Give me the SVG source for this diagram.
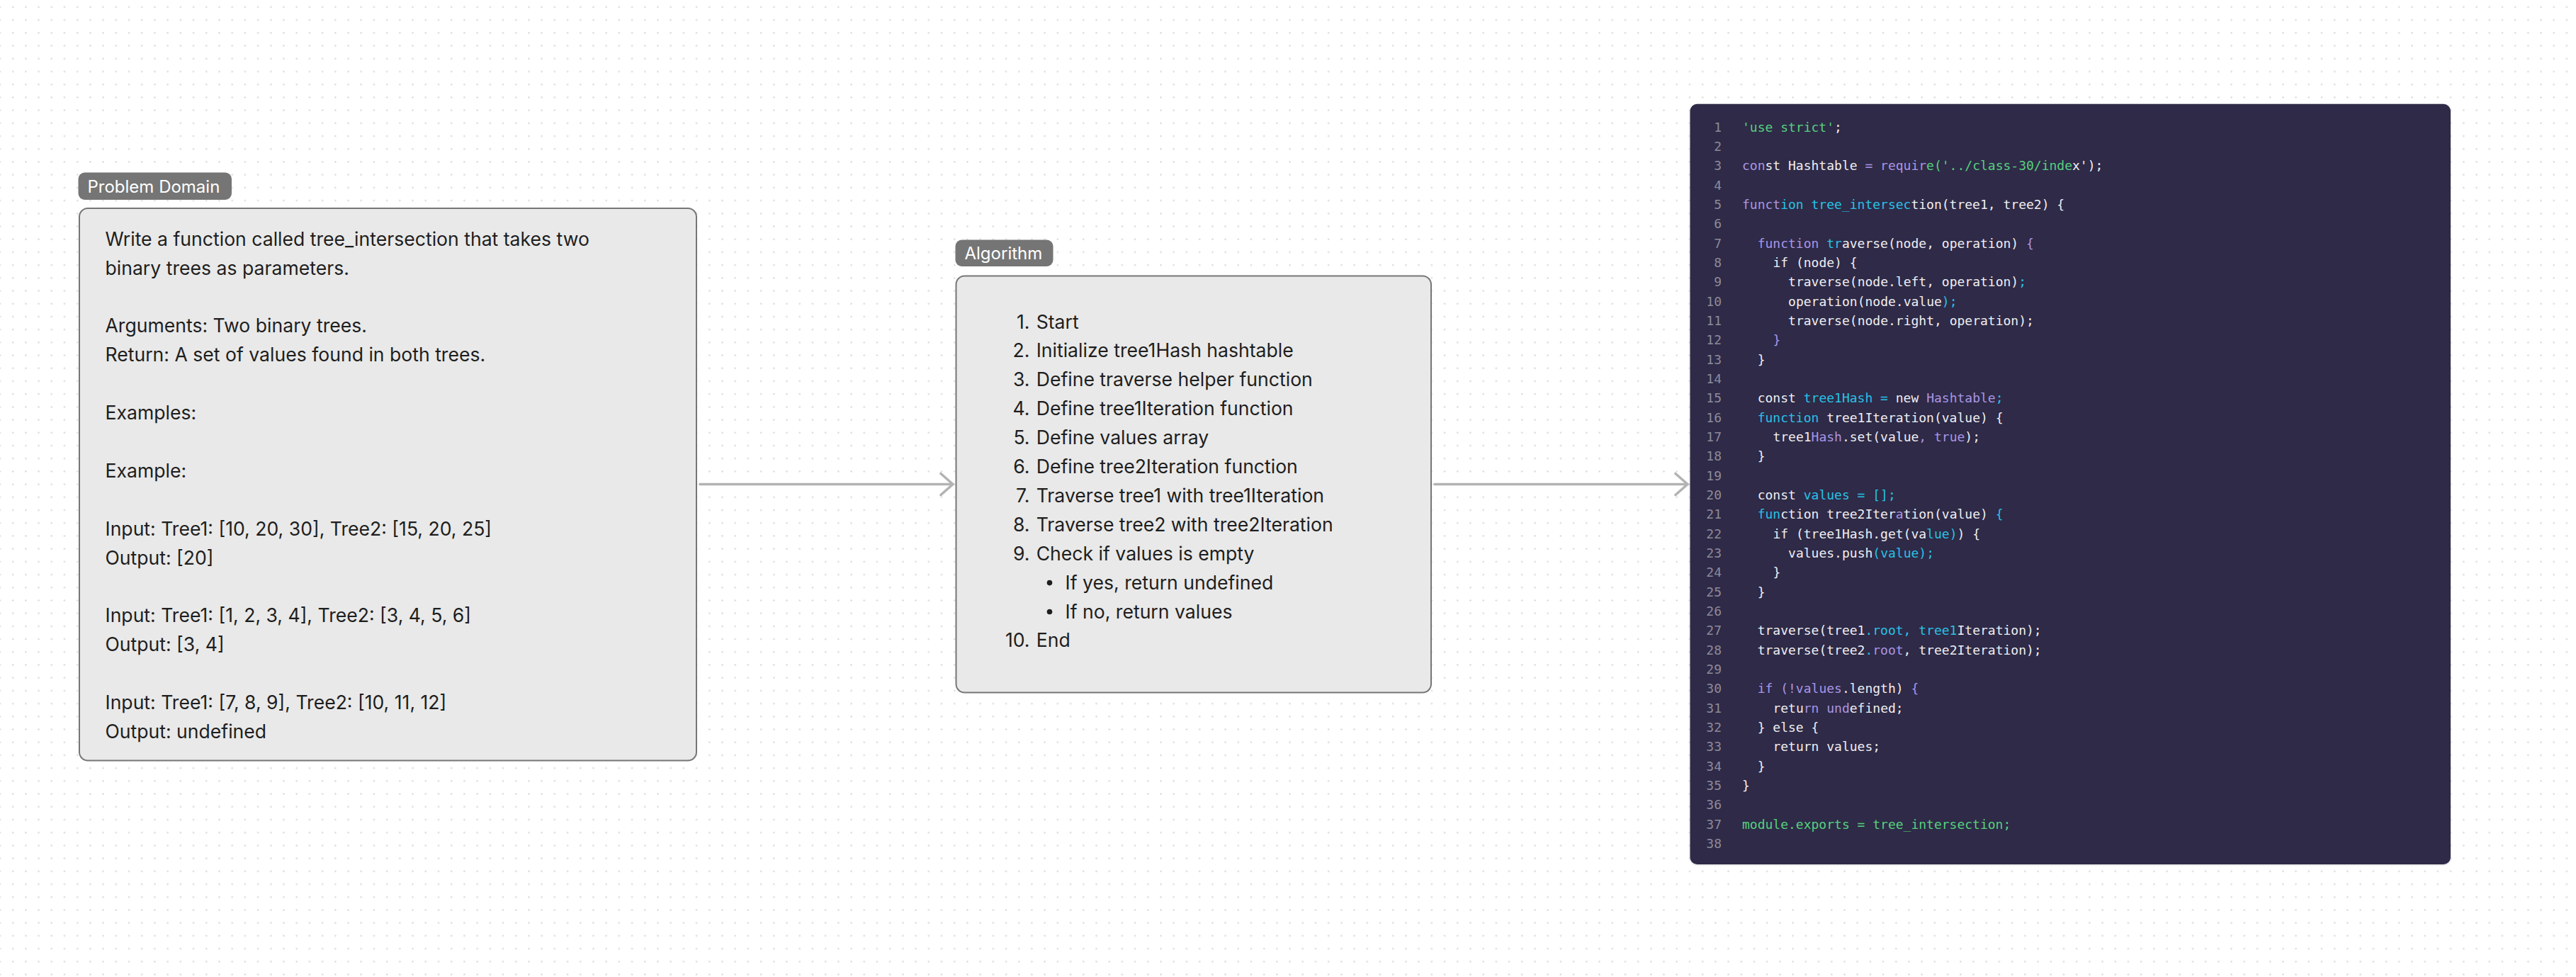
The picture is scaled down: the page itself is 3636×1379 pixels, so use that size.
<svg xmlns="http://www.w3.org/2000/svg" width="3636" height="1379" viewBox="0 0 3636 1379">
<style>
.bg{fill:#ffffff}
.box{fill:#e9e9e9;stroke:#767676;stroke-width:2}
.tag{fill:#757575}
.tagtxt{font-family:Inter,"Noto Sans",sans-serif;font-size:24px;fill:#ffffff}
.body{font-family:Inter,"Noto Sans",sans-serif;font-size:26.6px;fill:#1e1e1e}
.code{font-family:"DejaVu Sans Mono","Liberation Mono",monospace;font-size:18px;fill:#eeeef2}
.ln{fill:#8d8a9c}
.g{fill:#56d07f}
.p{fill:#a995e6}
.c{fill:#29c1e6}
.conn{stroke:#b3b3b3;stroke-width:3.6;fill:none;stroke-linecap:round}
</style>
<defs>
<pattern id="dots" patternUnits="userSpaceOnUse" x="-9.103" y="0.897" width="18.206" height="18.206">
<circle cx="9.103" cy="9.103" r="1.25" fill="#d8d8d8"/>
</pattern>
<marker id="chev" markerUnits="userSpaceOnUse" viewBox="0 0 24 36" refX="20" refY="18" markerWidth="24" markerHeight="36" orient="auto">
<path d="M3 3 L20 18 L3 33" fill="none" stroke="#b3b3b3" stroke-width="3.6" stroke-linecap="round" stroke-linejoin="round"/>
</marker>
<filter id="sh" x="-5%" y="-5%" width="110%" height="110%">
<feDropShadow dx="0" dy="1" stdDeviation="1.2" flood-color="#000" flood-opacity="0.18"/>
</filter>
</defs>
<rect class="bg" x="0" y="0" width="3636" height="1379"/>
<rect x="0" y="0" width="3636" height="1379" fill="url(#dots)"/>

<g id="connectors">
<line class="conn" x1="988" y1="683.5" x2="1345" y2="683.5" marker-end="url(#chev)"/>
<line class="conn" x1="2025" y1="683.5" x2="2382" y2="683.5" marker-end="url(#chev)"/>
</g>

<g id="problem-domain">
<rect class="tag" x="110.5" y="243.5" width="216.5" height="38.5" rx="9"/>
<text class="tagtxt" x="123.5" y="271.5">Problem Domain</text>
<rect class="box" x="112" y="294" width="871" height="779.5" rx="12"/>
<text class="body" x="148.5" y="346.7">Write a function called tree_intersection that takes two</text>
<text class="body" x="148.5" y="387.6">binary trees as parameters.</text>
<text class="body" x="148.5" y="469.4">Arguments: Two binary trees.</text>
<text class="body" x="148.5" y="510.3">Return: A set of values found in both trees.</text>
<text class="body" x="148.5" y="592.1">Examples:</text>
<text class="body" x="148.5" y="673.9">Example:</text>
<text class="body" x="148.5" y="755.7">Input: Tree1: [10, 20, 30], Tree2: [15, 20, 25]</text>
<text class="body" x="148.5" y="796.6">Output: [20]</text>
<text class="body" x="148.5" y="878.4">Input: Tree1: [1, 2, 3, 4], Tree2: [3, 4, 5, 6]</text>
<text class="body" x="148.5" y="919.3">Output: [3, 4]</text>
<text class="body" x="148.5" y="1001.1">Input: Tree1: [7, 8, 9], Tree2: [10, 11, 12]</text>
<text class="body" x="148.5" y="1042">Output: undefined</text>
</g>

<g id="algorithm">
<rect class="tag" x="1348.5" y="338.5" width="138" height="37.5" rx="9"/>
<text class="tagtxt" x="1361.5" y="366">Algorithm</text>
<rect class="box" x="1349.5" y="389.5" width="670.5" height="588" rx="12"/>
<g class="body">
<text x="1453.5" y="463.5" text-anchor="end">1.</text><text x="1462.7" y="463.5">Start</text>
<text x="1453.5" y="504.4" text-anchor="end">2.</text><text x="1462.7" y="504.4">Initialize tree1Hash hashtable</text>
<text x="1453.5" y="545.3" text-anchor="end">3.</text><text x="1462.7" y="545.3">Define traverse helper function</text>
<text x="1453.5" y="586.2" text-anchor="end">4.</text><text x="1462.7" y="586.2">Define tree1Iteration function</text>
<text x="1453.5" y="627.1" text-anchor="end">5.</text><text x="1462.7" y="627.1">Define values array</text>
<text x="1453.5" y="668" text-anchor="end">6.</text><text x="1462.7" y="668">Define tree2Iteration function</text>
<text x="1453.5" y="708.9" text-anchor="end">7.</text><text x="1462.7" y="708.9">Traverse tree1 with tree1Iteration</text>
<text x="1453.5" y="749.8" text-anchor="end">8.</text><text x="1462.7" y="749.8">Traverse tree2 with tree2Iteration</text>
<text x="1453.5" y="790.7" text-anchor="end">9.</text><text x="1462.7" y="790.7">Check if values is empty</text>
<circle cx="1481.5" cy="822.6" r="3.8" fill="#1e1e1e"/><text x="1503.6" y="831.6">If yes, return undefined</text>
<circle cx="1481.5" cy="863.5" r="3.8" fill="#1e1e1e"/><text x="1503.6" y="872.5">If no, return values</text>
<text x="1453.5" y="913.4" text-anchor="end">10.</text><text x="1462.7" y="913.4">End</text>
</g>
</g>

<g id="code">
<rect x="2385.5" y="146.7" width="1073.5" height="1073.3" rx="10" fill="#2e2946" filter="url(#sh)"/>
<g class="code">
<g class="ln" text-anchor="end">
<text x="2430" y="185.7">1</text><text x="2430" y="213.03">2</text><text x="2430" y="240.36">3</text><text x="2430" y="267.69">4</text><text x="2430" y="295.02">5</text><text x="2430" y="322.35">6</text><text x="2430" y="349.68">7</text><text x="2430" y="377.01">8</text><text x="2430" y="404.34">9</text><text x="2430" y="431.67">10</text><text x="2430" y="459">11</text><text x="2430" y="486.33">12</text><text x="2430" y="513.66">13</text><text x="2430" y="540.99">14</text><text x="2430" y="568.32">15</text><text x="2430" y="595.65">16</text><text x="2430" y="622.98">17</text><text x="2430" y="650.31">18</text><text x="2430" y="677.64">19</text><text x="2430" y="704.97">20</text><text x="2430" y="732.3">21</text><text x="2430" y="759.63">22</text><text x="2430" y="786.96">23</text><text x="2430" y="814.29">24</text><text x="2430" y="841.62">25</text><text x="2430" y="868.95">26</text><text x="2430" y="896.28">27</text><text x="2430" y="923.61">28</text><text x="2430" y="950.94">29</text><text x="2430" y="978.27">30</text><text x="2430" y="1005.6">31</text><text x="2430" y="1032.93">32</text><text x="2430" y="1060.26">33</text><text x="2430" y="1087.59">34</text><text x="2430" y="1114.92">35</text><text x="2430" y="1142.25">36</text><text x="2430" y="1169.58">37</text><text x="2430" y="1196.91">38</text>
</g>
<text x="2459" y="185.7"><tspan class="g">'use strict'</tspan>;</text>
<text x="2459" y="240.36"><tspan class="p">con</tspan>st Hashtable <tspan class="p">= requir</tspan><tspan class="g">e('../class-30/inde</tspan>x');</text>
<text x="2459" y="295.02"><tspan class="p">funct</tspan><tspan class="c">ion tree_intersec</tspan>tion(tree1, tree2) {</text>
<text x="2480.7" y="349.68"><tspan class="p">function</tspan> <tspan class="c">tr</tspan>averse(node, operation) <tspan class="p">{</tspan></text>
<text x="2502.4" y="377.01">if (node) {</text>
<text x="2524.1" y="404.34">traverse(node.left, operation)<tspan class="c">;</tspan></text>
<text x="2524.1" y="431.67">operation(node.value<tspan class="c">);</tspan></text>
<text x="2524.1" y="459">traverse(node.right, operation);</text>
<text x="2502.4" y="486.33" class="p">}</text>
<text x="2480.7" y="513.66">}</text>
<text x="2480.7" y="568.32">const <tspan class="c">tree1Hash =</tspan> new <tspan class="p">Hashtable</tspan><tspan class="c">;</tspan></text>
<text x="2480.7" y="595.65"><tspan class="c">function</tspan> tree1Iteration(value) {</text>
<text x="2502.4" y="622.98">tree1<tspan class="p">Hash</tspan>.set(value<tspan class="p">, true</tspan>);</text>
<text x="2480.7" y="650.31">}</text>
<text x="2480.7" y="704.97">const <tspan class="c">values = [];</tspan></text>
<text x="2480.7" y="732.3"><tspan class="c">fun</tspan>ction tree2Iter<tspan class="p">a</tspan>tion(value) <tspan class="c">{</tspan></text>
<text x="2502.4" y="759.63">if (tree1Hash.get(va<tspan class="c">lue)</tspan>) {</text>
<text x="2524.1" y="786.96">values.push<tspan class="c">(value);</tspan></text>
<text x="2502.4" y="814.29">}</text>
<text x="2480.7" y="841.62">}</text>
<text x="2480.7" y="896.28">traverse(tree1<tspan class="c">.root, tree1</tspan>Iteration);</text>
<text x="2480.7" y="923.61">traverse(tree2<tspan class="c">.</tspan><tspan class="p">root</tspan>, tree2Iteration);</text>
<text x="2480.7" y="978.27"><tspan class="p">if (!values</tspan>.length) <tspan class="p">{</tspan></text>
<text x="2502.4" y="1005.6">retu<tspan class="p">rn und</tspan>efined;</text>
<text x="2480.7" y="1032.93">} else {</text>
<text x="2502.4" y="1060.26">return values;</text>
<text x="2480.7" y="1087.59">}</text>
<text x="2459" y="1114.92">}</text>
<text x="2459" y="1169.58" class="g">module.exports = tree_intersection;</text>
</g>
</g>
</svg>
